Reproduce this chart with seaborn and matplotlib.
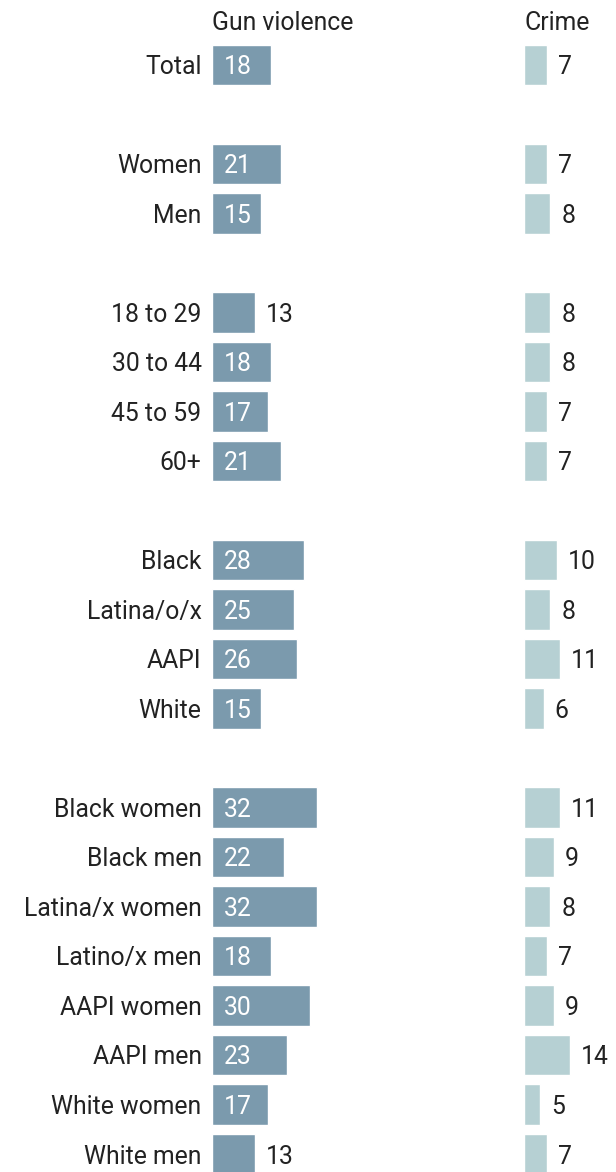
import pandas as pd
import matplotlib.pyplot as plt
import seaborn as sns

# Data
groups = ["Total", "", "Women", "Men", " ", "18 to 29", "30 to 44", "45 to 59", "60+", "  ",
          "Black", "Latina/o/x", "AAPI", "White", "   ",
          "Black women", "Black men", "Latina/x women", "Latino/x men",
          "AAPI women", "AAPI men", "White women", "White men"]
labels = ["Total", "Women", "Men", "18 to 29", "30 to 44", "45 to 59", "60+",
          "Black", "Latina/o/x", "AAPI", "White",
          "Black women", "Black men", "Latina/x women", "Latino/x men",
          "AAPI women", "AAPI men", "White women", "White men"]
gun_violence = [18, 21, 15, 13, 18, 17, 21, 28, 25, 26, 15, 32, 22, 32, 18, 30, 23, 17, 13]
crime = [7, 7, 8, 8, 8, 7, 7, 10, 8, 11, 6, 11, 9, 8, 7, 9, 14, 5, 7]

df = pd.DataFrame({"group": labels, "gun": gun_violence, "crime": crime})

sns.set_style("white")
plt.rcParams["font.family"] = ["Roboto", "DejaVu Sans"]

W, H = 616, 1172
fig = plt.figure(figsize=(W / 100, H / 100), dpi=100)

px_per_unit = 3.28
row_px = 49.5
top_px = 65 - row_px / 2
bottom_px = top_px + row_px * len(groups)

def make_ax(left_px, width_px):
    return fig.add_axes([left_px / W, 1 - bottom_px / H, width_px / W, (bottom_px - top_px) / H])

ax_gun = make_ax(212, 280)
ax_crime = make_ax(524, 92)

text_color = "#222222"
fs = 17.8

panels = [(ax_gun, "gun", "#7b9aad", "Gun violence"), (ax_crime, "crime", "#b6d0d3", "Crime")]
for ax, col, color, title in panels:
    sns.barplot(data=df, x=col, y="group", order=groups, color=color, width=0.81,
                saturation=1, ax=ax)
    ax.set_xlim(0, ax.get_position().width * W / px_per_unit)
    ax.set_ylim(len(groups) - 0.5, -0.5)
    ax.set_xlabel("")
    ax.set_ylabel("")
    ax.set_xticks([])
    sns.despine(ax=ax, left=True, bottom=True)
    ax.text(0, -0.5 - 20 / row_px, title, fontsize=fs, color=text_color,
            ha="left", va="center_baseline", clip_on=False)
    for patch, val in zip(ax.patches, df[col]):
        y = patch.get_y() + patch.get_height() / 2
        if val >= 15:
            ax.text(12 / px_per_unit, y, str(val), color="white", fontsize=fs,
                    ha="left", va="center_baseline")
        else:
            ax.text(val + 11 / px_per_unit, y, str(val), color=text_color, fontsize=fs,
                    ha="left", va="center_baseline")

ax_gun.tick_params(axis="y", length=0, pad=7.5, labelsize=fs, labelcolor=text_color)
ax_crime.set_yticks([])

fig.savefig("out.png", dpi=100)
